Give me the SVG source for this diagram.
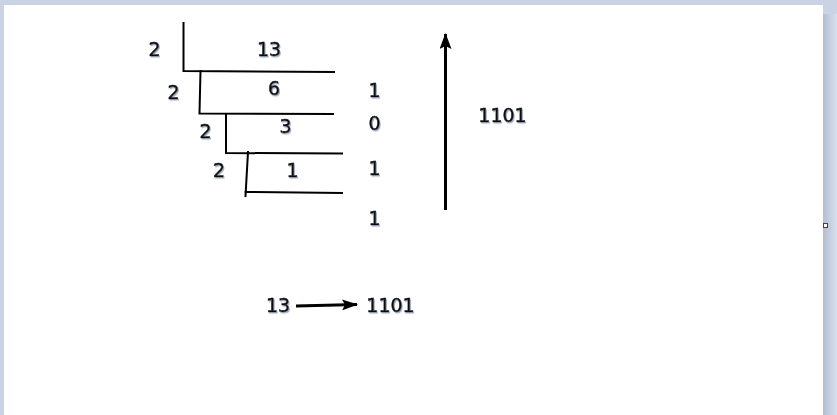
<svg xmlns="http://www.w3.org/2000/svg" width="837" height="415" viewBox="0 0 837 415">
<style>
.t{font-family:"DejaVu Sans","Liberation Sans",sans-serif;font-size:19px;fill:#111;stroke:#111;stroke-width:0.5;text-anchor:middle;filter:url(#sh)}
.ln{stroke:#000;stroke-width:2;fill:none;stroke-linecap:square}
.ar{stroke:#000;stroke-width:3;fill:none}
</style>
<defs>
<filter id="sh" x="-20%" y="-20%" width="150%" height="150%">
<feDropShadow dx="1" dy="1.3" stdDeviation="0.5" flood-color="#8e9cb4" flood-opacity="0.85"/>
</filter>
<linearGradient id="rs" x1="0" y1="0" x2="1" y2="0">
<stop offset="0" stop-color="#b3bed2"/>
<stop offset="1" stop-color="#d8e1ef"/>
</linearGradient>
<marker id="ah" viewBox="0 0 16 12" refX="15" refY="6" markerWidth="16" markerHeight="12" orient="auto" markerUnits="userSpaceOnUse">
<path d="M0,0 L16,6 L0,12 L3,6 Z" fill="#000"/>
</marker>
<marker id="ah2" viewBox="0 0 16 11" refX="15" refY="5.5" markerWidth="16" markerHeight="11" orient="auto" markerUnits="userSpaceOnUse">
<path d="M0,0 L16,5.5 L0,11 L3,5.5 Z" fill="#000"/>
</marker>
</defs>
<rect x="0" y="0" width="837" height="415" fill="#c9d3e3"/>
<rect x="4" y="5" width="819" height="410" fill="#fff"/>
<rect x="823" y="14" width="14" height="401" fill="url(#rs)"/>
<rect x="823.5" y="223.5" width="4" height="4" fill="#fff" stroke="#444" stroke-width="1"/>
<g id="connectors">
<path class="ln" d="M183.5,23 V71 L334,72"/>
<path class="ln" d="M200.5,71 L199.5,113.5 L333,114"/>
<path class="ln" d="M226,115 V153 L342,153.5"/>
<path class="ln" d="M248,152 L245.5,196 M245.5,192 L342,193"/>
<line class="ar" x1="445.5" y1="210" x2="445.5" y2="34" marker-end="url(#ah)"/>
<line class="ar" x1="296" y1="306" x2="357" y2="304.5" stroke-width="2.5" marker-end="url(#ah2)"/>
</g>
<g id="divisor1"><text class="t" x="154.5" y="56">2</text></g>
<g id="dividend13"><text class="t" x="269" y="56">13</text></g>
<g id="divisor2"><text class="t" x="173.5" y="99">2</text></g>
<g id="quotient6"><text class="t" x="274" y="95">6</text></g>
<g id="remainder1"><text class="t" x="374.5" y="97">1</text></g>
<g id="divisor3"><text class="t" x="205.5" y="138">2</text></g>
<g id="quotient3"><text class="t" x="285.5" y="133">3</text></g>
<g id="remainder2"><text class="t" x="374.5" y="130">0</text></g>
<g id="divisor4"><text class="t" x="219" y="177">2</text></g>
<g id="quotient1"><text class="t" x="292.5" y="177">1</text></g>
<g id="remainder3"><text class="t" x="374.5" y="175">1</text></g>
<g id="remainder4"><text class="t" x="374.5" y="225">1</text></g>
<g id="result"><text class="t" x="502.5" y="122">1101</text></g>
<g id="input13"><text class="t" x="278" y="312">13</text></g>
<g id="output1101"><text class="t" x="390.5" y="312">1101</text></g>
</svg>
